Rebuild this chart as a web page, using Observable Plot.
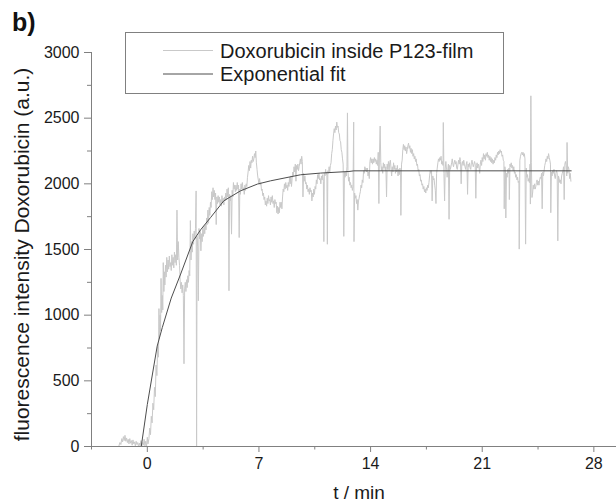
<!DOCTYPE html>
<html><head><meta charset="utf-8">
<script src="https://cdn.jsdelivr.net/npm/d3@7"></script>
<script src="https://cdn.jsdelivr.net/npm/@observablehq/plot@0.6"></script>
<style>
html,body{margin:0;padding:0;background:#fff;}
#chart svg{display:block;}
</style></head><body><div id="chart"></div>
<script>
const panelLabel = "b)";
const xLabel = "t / min";
const yLabel = "fluorescence intensity Doxorubicin (a.u.)";
const seriesNames = ["Doxorubicin inside P123-film", "Exponential fit"];
const xDomain = [-3.5, 29.42];
const yDomain = [0, 3000];
const xTicks = [0, 7, 14, 21, 28];
const xMinorTicks = [-3.5, 3.5, 10.5, 17.5, 24.5];
const yTicks = [0, 500, 1000, 1500, 2000, 2500, 3000];
const yMinorTicks = [250, 750, 1250, 1750, 2250, 2750];

// measured trace: [t (min), intensity (a.u.)]
const trace = [
[-1.78,5],[-1.72,30],[-1.66,15],[-1.6,60],[-1.55,35],[-1.5,75],[-1.45,45],[-1.4,85],[-1.35,40],[-1.3,65],[-1.25,30],[-1.2,55],[-1.15,20],[-1.1,60],[-1.05,25],[-1.0,45],[-0.95,10],[-0.9,50],[-0.85,20],[-0.8,35],[-0.75,5],[-0.7,40],[-0.65,15],[-0.6,30],[-0.55,0],[-0.5,25],[-0.45,5],[-0.4,45],[-0.35,0],[-0.3,30],[-0.25,10],[-0.2,55],[-0.15,5],[-0.1,40],[-0.05,0],[0.0,70],[0.04,20],
[0.1,60],[0.15,140],[0.2,90],[0.25,230],[0.3,180],[0.35,330],[0.4,280],[0.45,450],[0.5,380],[0.55,620],[0.6,540],[0.65,760],[0.7,680],[0.73,1050],[0.76,820],[0.8,1000],[0.83,880],[0.86,1280],[0.9,1020],[0.94,1150],[0.97,1040],[1.0,1400],[1.04,1180],[1.07,1330],[1.1,1230],[1.14,1380],[1.18,1290],[1.22,1440],[1.26,1330],[1.3,1420],[1.34,1350],[1.38,1450],[1.42,1370],[1.46,1400],[1.5,1340],[1.54,1460],[1.58,1380],[1.62,1440],[1.66,1360],[1.7,1480],[1.74,1400],[1.78,1460],[1.82,1380],[1.86,1800],[1.9,1420],[1.94,1560],[1.98,1440],[2.02,1380],[2.06,1260],[2.1,1200],[2.14,1250],[2.18,1170],[2.22,1230],[2.26,1150],[2.3,630],[2.34,1200],[2.38,1250],[2.42,1180],[2.46,1270],[2.5,1210],[2.54,1300],[2.58,1250],[2.62,1340],[2.66,1300],[2.7,1720],[2.74,1420],[2.78,1560],[2.82,1480],[2.86,1620],[2.9,1540],[2.94,1640],[2.98,1580],[3.02,1660],[3.06,1946],[3.09,0],[3.12,1600],[3.16,1520],[3.2,1110],[3.24,1660],[3.28,1580],[3.32,1640],[3.36,1490],[3.4,1620],[3.44,1560],[3.48,1660],[3.52,1600],[3.56,1680],[3.6,1620],[3.64,1690],[3.68,1650],[3.72,1740],[3.76,1690],[3.8,1800],[3.84,1700],[3.88,1820],[3.92,1760],[3.96,1860],[4.0,1820],[4.04,1940],[4.08,1880],[4.12,1970],[4.16,1900],[4.2,1950],[4.24,1880],[4.28,1930],[4.32,1690],[4.36,1900],[4.4,1850],[4.44,1910],[4.48,1860],[4.52,1900],[4.56,1840],[4.6,1880],[4.64,1830],[4.68,1910],[4.72,1860],[4.76,1890],[4.8,1840],[4.84,1900],[4.88,1870],[4.92,1930],[4.96,1880],[5.0,1960],[5.04,1900],[5.08,1970],[5.12,1186],[5.16,1920],[5.2,1870],[5.24,1910],[5.28,1617],[5.32,1950],[5.36,1900],[5.4,2010],[5.44,1960],[5.48,1990],[5.52,1940],[5.56,1990],[5.6,1950],[5.64,2010],[5.68,1960],[5.72,1990],[5.76,1591],[5.8,1960],[5.84,1920],[5.88,2000],[5.92,1960],[5.96,2010],[6.0,1950],[6.04,1970],[6.08,1920],[6.12,1990],[6.16,1950],[6.2,2000],[6.24,1980],[6.28,2050],[6.32,2090],[6.36,2140],[6.4,2100],[6.44,2170],[6.48,2120],[6.52,2180],[6.56,2160],[6.6,2210],[6.64,2170],[6.68,2190],[6.72,2230],[6.76,2200],[6.8,2250],[6.84,2160],[6.88,2110],[6.92,2060],[6.96,2030],[7.0,2000],[7.04,2040],[7.08,1990],[7.12,2010],[7.16,1950],[7.2,1960],[7.24,1910],[7.28,1930],[7.32,1880],[7.36,1900],[7.4,1840],[7.44,1870],[7.48,1830],[7.52,1890],[7.56,1850],[7.6,1910],[7.64,1870],[7.68,1880],[7.72,1840],[7.76,1900],[7.8,1860],[7.84,1910],[7.88,1850],[7.92,1870],[7.96,1820],[8.0,1880],[8.04,1850],[8.08,1860],[8.12,1780],[8.16,1830],[8.2,1770],[8.24,1820],[8.28,1780],[8.32,1860],[8.36,1820],[8.4,1860],[8.44,1810],[8.48,1900],[8.52,1960],[8.56,1940],[8.6,2000],[8.64,1960],[8.68,2010],[8.72,1970],[8.76,1990],[8.8,1950],[8.84,2010],[8.88,1980],[8.92,2050],[8.96,2000],[9.0,2060],[9.04,1980],[9.08,2040],[9.12,2090],[9.16,2060],[9.2,2130],[9.24,2090],[9.28,2150],[9.32,2020],[9.36,2140],[9.4,2110],[9.44,2150],[9.48,2100],[9.52,2130],[9.56,2160],[9.6,2190],[9.64,2150],[9.68,2210],[9.72,2170],[9.76,1900],[9.8,2080],[9.84,2020],[9.88,2060],[9.92,2000],[9.96,2010],[10.0,1960],[10.04,1990],[10.08,1940],[10.12,1960],[10.16,1920],[10.2,1970],[10.24,1940],[10.28,1950],[10.32,1870],[10.36,1930],[10.4,1900],[10.44,1960],[10.48,1920],[10.52,1980],[10.56,1960],[10.6,2030],[10.64,2000],[10.68,2070],[10.72,2040],[10.76,2080],[10.8,2030],[10.84,2040],[10.88,2000],[10.92,2060],[10.96,2030],[11.0,2070],[11.04,2020],[11.07,1560],[11.1,2080],[11.14,2060],[11.18,2110],[11.22,2070],[11.26,2090],[11.29,1540],[11.32,2100],[11.36,2080],[11.4,2130],[11.44,2090],[11.48,2140],[11.52,2160],[11.56,2230],[11.6,2260],[11.64,2330],[11.68,2380],[11.72,2420],[11.76,2390],[11.8,2440],[11.84,2410],[11.88,2470],[11.92,2430],[11.96,2440],[12.0,2390],[12.04,2380],[12.08,2330],[12.12,2320],[12.16,2260],[12.2,2240],[12.24,2190],[12.28,2150],[12.32,1600],[12.36,2090],[12.4,2050],[12.44,2090],[12.48,2060],[12.52,2130],[12.55,2540],[12.58,2100],[12.62,2020],[12.66,2050],[12.7,1990],[12.74,2010],[12.78,1970],[12.82,1990],[12.86,1950],[12.9,1980],[12.94,2470],[12.96,1560],[13.0,1930],[13.04,1890],[13.08,1910],[13.12,1850],[13.16,1880],[13.2,1800],[13.24,1870],[13.28,1890],[13.32,1920],[13.36,1940],[13.4,1990],[13.44,1970],[13.48,2030],[13.52,2010],[13.56,2100],[13.6,2080],[13.64,2130],[13.68,2100],[13.72,2120],[13.76,2090],[13.8,2120],[13.84,2060],[13.88,2090],[13.92,2040],[13.96,2170],[14.0,2200],[14.04,2160],[14.08,2190],[14.12,2150],[14.16,2190],[14.2,2160],[14.24,2200],[14.28,2170],[14.32,2190],[14.36,2150],[14.4,2180],[14.44,2140],[14.48,2240],[14.52,1850],[14.56,2250],[14.6,2440],[14.64,2160],[14.68,2100],[14.72,2130],[14.76,2080],[14.8,2160],[14.84,2120],[14.88,2150],[14.92,2100],[14.96,2130],[15.0,1900],[15.04,2150],[15.08,2110],[15.12,2170],[15.16,2100],[15.2,2160],[15.24,2180],[15.28,2120],[15.32,2060],[15.36,2130],[15.4,2090],[15.44,2160],[15.48,2110],[15.52,2140],[15.56,2080],[15.6,2120],[15.64,2090],[15.68,2140],[15.72,2060],[15.76,2110],[15.8,2070],[15.84,2120],[15.88,2090],[15.9,1760],[15.94,2150],[15.98,2180],[16.02,2260],[16.06,2300],[16.1,2260],[16.14,2290],[16.18,2250],[16.22,2280],[16.26,2230],[16.3,2260],[16.34,2290],[16.38,2310],[16.42,2270],[16.46,2290],[16.5,2240],[16.54,2270],[16.58,2230],[16.62,2260],[16.66,2210],[16.7,2230],[16.74,2190],[16.78,2210],[16.82,2170],[16.86,2190],[16.9,2140],[16.94,2150],[16.98,2100],[17.02,2110],[17.06,2060],[17.1,2070],[17.14,2020],[17.18,2030],[17.22,1990],[17.26,2000],[17.3,1960],[17.34,1980],[17.38,1940],[17.42,1960],[17.46,1930],[17.5,1970],[17.54,1950],[17.58,1990],[17.62,1970],[17.66,2010],[17.7,2060],[17.74,2100],[17.78,2080],[17.82,2100],[17.86,1870],[17.9,2060],[17.94,2030],[17.98,2040],[18.02,1990],[18.06,1950],[18.1,1850],[18.14,2080],[18.18,2120],[18.22,2160],[18.26,2190],[18.3,2170],[18.34,2200],[18.38,2180],[18.42,2210],[18.46,2150],[18.5,2170],[18.54,2140],[18.56,2467],[18.6,2080],[18.64,1870],[18.68,2120],[18.72,2170],[18.76,2110],[18.8,2050],[18.84,2100],[18.88,2150],[18.92,1730],[18.96,2140],[19.0,2110],[19.04,2130],[19.08,2160],[19.12,2190],[19.16,2150],[19.2,2130],[19.24,2160],[19.28,2180],[19.32,2150],[19.36,2170],[19.4,2120],[19.44,2110],[19.48,2150],[19.52,2180],[19.56,2150],[19.6,2200],[19.64,2170],[19.68,2000],[19.72,2150],[19.76,2170],[19.8,2140],[19.84,2180],[19.88,2150],[19.92,2130],[19.96,2110],[20.0,2150],[20.04,2170],[20.08,1920],[20.12,2150],[20.16,2130],[20.2,2160],[20.24,2120],[20.28,2110],[20.32,2160],[20.36,2180],[20.4,2150],[20.44,2130],[20.48,2150],[20.52,2170],[20.56,2150],[20.6,1890],[20.64,2140],[20.68,2160],[20.72,2120],[20.76,2150],[20.8,2130],[20.84,2080],[20.88,2150],[20.92,2180],[20.96,2140],[21.0,2200],[21.04,2170],[21.08,2230],[21.12,2190],[21.16,2220],[21.2,2180],[21.24,2230],[21.28,2210],[21.32,2240],[21.36,2200],[21.4,2220],[21.44,2180],[21.48,2210],[21.52,2170],[21.56,2200],[21.6,2160],[21.64,2190],[21.68,2150],[21.72,2180],[21.76,2160],[21.8,2200],[21.84,2180],[21.88,2220],[21.92,2200],[21.96,2240],[22.0,2220],[22.04,2250],[22.08,2230],[22.12,2260],[22.16,2240],[22.2,2250],[22.24,2210],[22.28,2220],[22.32,2180],[22.36,2170],[22.38,1810],[22.42,2130],[22.46,2090],[22.48,1740],[22.52,2080],[22.56,2050],[22.6,2110],[22.64,2080],[22.68,2120],[22.7,1880],[22.74,2150],[22.78,2130],[22.82,2160],[22.86,2120],[22.9,2140],[22.94,2100],[22.98,2130],[23.02,2080],[23.06,2090],[23.1,2050],[23.14,2070],[23.18,2030],[23.22,2050],[23.26,2010],[23.3,2020],[23.32,1503],[23.36,2180],[23.4,2210],[23.44,2230],[23.48,2240],[23.52,2220],[23.56,2240],[23.6,2210],[23.64,2230],[23.68,2190],[23.72,1541],[23.76,2120],[23.8,2050],[23.84,2070],[23.88,2020],[23.92,2040],[23.96,2010],[24.0,2150],[24.02,1846],[24.05,2670],[24.08,2160],[24.12,1896],[24.16,1930],[24.2,1990],[24.24,1960],[24.28,2000],[24.32,1960],[24.36,1980],[24.4,2010],[24.44,2030],[24.48,1990],[24.52,2020],[24.56,1990],[24.6,2030],[24.64,2050],[24.68,2040],[24.72,2080],[24.76,1810],[24.8,2090],[24.84,2060],[24.88,2100],[24.92,2140],[24.96,2160],[25.0,2190],[25.04,2170],[25.08,2210],[25.12,2190],[25.16,2230],[25.2,2200],[25.24,2180],[25.28,2150],[25.3,1780],[25.34,2090],[25.38,2060],[25.42,2100],[25.46,2080],[25.5,2110],[25.54,2060],[25.58,2040],[25.62,2080],[25.66,2100],[25.7,2080],[25.74,1566],[25.78,2060],[25.82,2040],[25.86,2010],[25.9,2030],[25.94,2000],[25.98,2060],[26.02,2080],[26.06,2100],[26.1,2130],[26.14,1880],[26.18,2150],[26.22,2170],[26.26,2140],[26.3,2060],[26.32,2315],[26.36,2080],[26.4,2130],[26.44,2110],[26.48,2040],[26.52,2080],[26.56,2020]
];

// exponential fit curve as drawn: [t (min), intensity (a.u.)]
const fit = [
[-0.38,0],[0,320],[0.62,765],[0.94,906],[1.5,1130],[2.09,1313],[2.85,1560],[3.34,1650],[3.97,1744],[4.8,1871],[5.85,1947],[6.9,1998],[7.73,2023],[9.61,2069],[10.87,2082],[12.64,2094],[12.95,2099],[26.58,2099]
];

const traceColor = "#c9c9c9";
const fitColor = "#4d4d4d";
const axisColor = "#808080";
const font = "'Liberation Sans', Arial, Helvetica, sans-serif";

const plot = Plot.plot({
  width: 616,
  height: 504,
  marginLeft: 91,
  marginRight: 0,
  marginTop: 52,
  marginBottom: 58,
  style: {fontFamily: font, background: "#fff", color: "#1a1a1a", overflow: "visible"},
  x: {domain: xDomain},
  y: {domain: yDomain},
  marks: [
    Plot.line(trace, {x: d => d[0], y: d => d[1], stroke: traceColor, strokeWidth: 1}),
    Plot.line(fit, {x: d => d[0], y: d => d[1], stroke: fitColor, strokeWidth: 1}),
    Plot.ruleY([yDomain[0]], {stroke: axisColor}),
    Plot.ruleX([xDomain[0]], {stroke: axisColor}),
    Plot.axisX({ticks: xTicks, tickSize: 6, tickPadding: 5, fontSize: 16, label: null, stroke: axisColor, tickFormat: d => String(d)}),
    Plot.axisX({ticks: xMinorTicks, tickSize: 3.5, text: null, label: null, stroke: axisColor}),
    Plot.axisY({ticks: yTicks, tickSize: 7, tickPadding: 5, fontSize: 16, label: null, stroke: axisColor, tickFormat: d => String(d)}),
    Plot.axisY({ticks: yMinorTicks, tickSize: 4, text: null, label: null, stroke: axisColor}),
    Plot.text([xLabel], {frameAnchor: "bottom", textAnchor: "middle", lineAnchor: "top", dy: 39, dx: 5, fontSize: 19}),
    Plot.text([yLabel], {frameAnchor: "left", textAnchor: "middle", rotate: -90, dx: -69, dy: 5, fontSize: 21})
  ]
});

const svg = d3.select(plot);
svg.append("text")
  .attr("x", 12).attr("y", 31)
  .attr("text-anchor", "start")
  .attr("font-family", font).attr("font-weight", "bold").attr("font-size", 25)
  .attr("fill", "#111")
  .text(panelLabel);

const lg = svg.append("g").attr("font-family", font).attr("font-size", 20)
  .attr("fill", "#1a1a1a").attr("text-anchor", "start");
lg.append("rect").attr("x", 125.5).attr("y", 32.5).attr("width", 378).attr("height", 61)
  .attr("fill", "#fff").attr("stroke", axisColor);
const legendColors = [traceColor, fitColor];
seriesNames.forEach((name, i) => {
  const yy = 50.5 + i * 23.5;
  lg.append("line").attr("x1", 163).attr("x2", 213).attr("y1", yy).attr("y2", yy)
    .attr("stroke", legendColors[i]).attr("stroke-width", 1);
  lg.append("text").attr("x", 220).attr("y", yy + 7).attr("text-anchor", "start").text(name);
});

document.getElementById("chart").appendChild(plot);
</script>
</body></html>
